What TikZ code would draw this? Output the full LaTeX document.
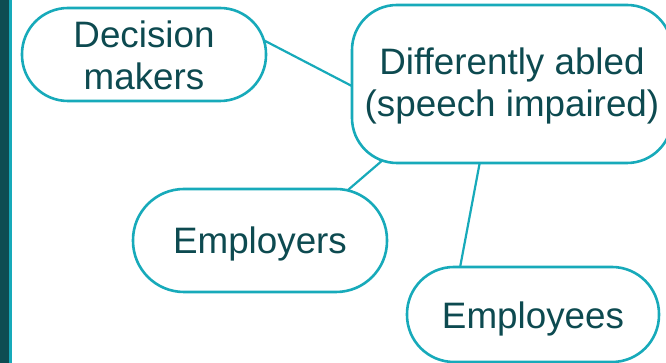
\documentclass[tikz,border=0pt]{standalone}
\usepackage{fontspec}
\setmainfont{Liberation Sans}
\usetikzlibrary{backgrounds,calc}
\definecolor{edgecyan}{HTML}{17AABA}
\definecolor{txtteal}{HTML}{0D4A50}
\definecolor{bardark}{HTML}{0E4D52}
\newcommand{\dropline}[2]{\raisebox{-#1}[\height][\depth]{#2}}
\tikzset{
  pill/.style={draw=edgecyan, line width=2.6pt, fill=white, rounded corners=#1,
    inner sep=0pt, text=txtteal, align=center,
    font=\fontsize{36.8}{42}\selectfont},
  conn/.style={draw=edgecyan, line width=2.2pt}
}
\begin{document}
\begin{tikzpicture}[x=1pt,y=1pt]
\useasboundingbox (0,0) rectangle (666,363);
\fill[bardark] (0,0) rectangle (9,363);
\fill[edgecyan] (9,0) rectangle (12,363);
\node[pill=46pt, minimum width=244pt, minimum height=93pt] (dm) at (144,308.5) {\dropline{1pt}{Decision}\\\dropline{1pt}{makers}};
\node[pill=45pt, minimum width=320pt, minimum height=158pt] (da) at (512,279) {\dropline{2pt}{Differently abled}\\\dropline{2pt}{(speech impaired)}};
\node[pill=51pt, minimum width=254pt, minimum height=103pt] (er) at (260,122.5) {\dropline{3pt}{Employers}};
\node[pill=47pt, minimum width=252pt, minimum height=95pt] (ee) at (533,48.5) {\dropline{4pt}{Employees}};
\begin{scope}[on background layer]
\draw[conn] ($(dm.east)+(-4,14.5)$) -- ($(da.west)+(4,-3.5)$);
\draw[conn] ($(er.north)+(86,-4)$) -- ($(da.south west)+(33,5)$);
\draw[conn] ($(ee.north)+(-73,-2)$) -- ($(da.south)+(-32,3)$);
\end{scope}
\end{tikzpicture}
\end{document}
